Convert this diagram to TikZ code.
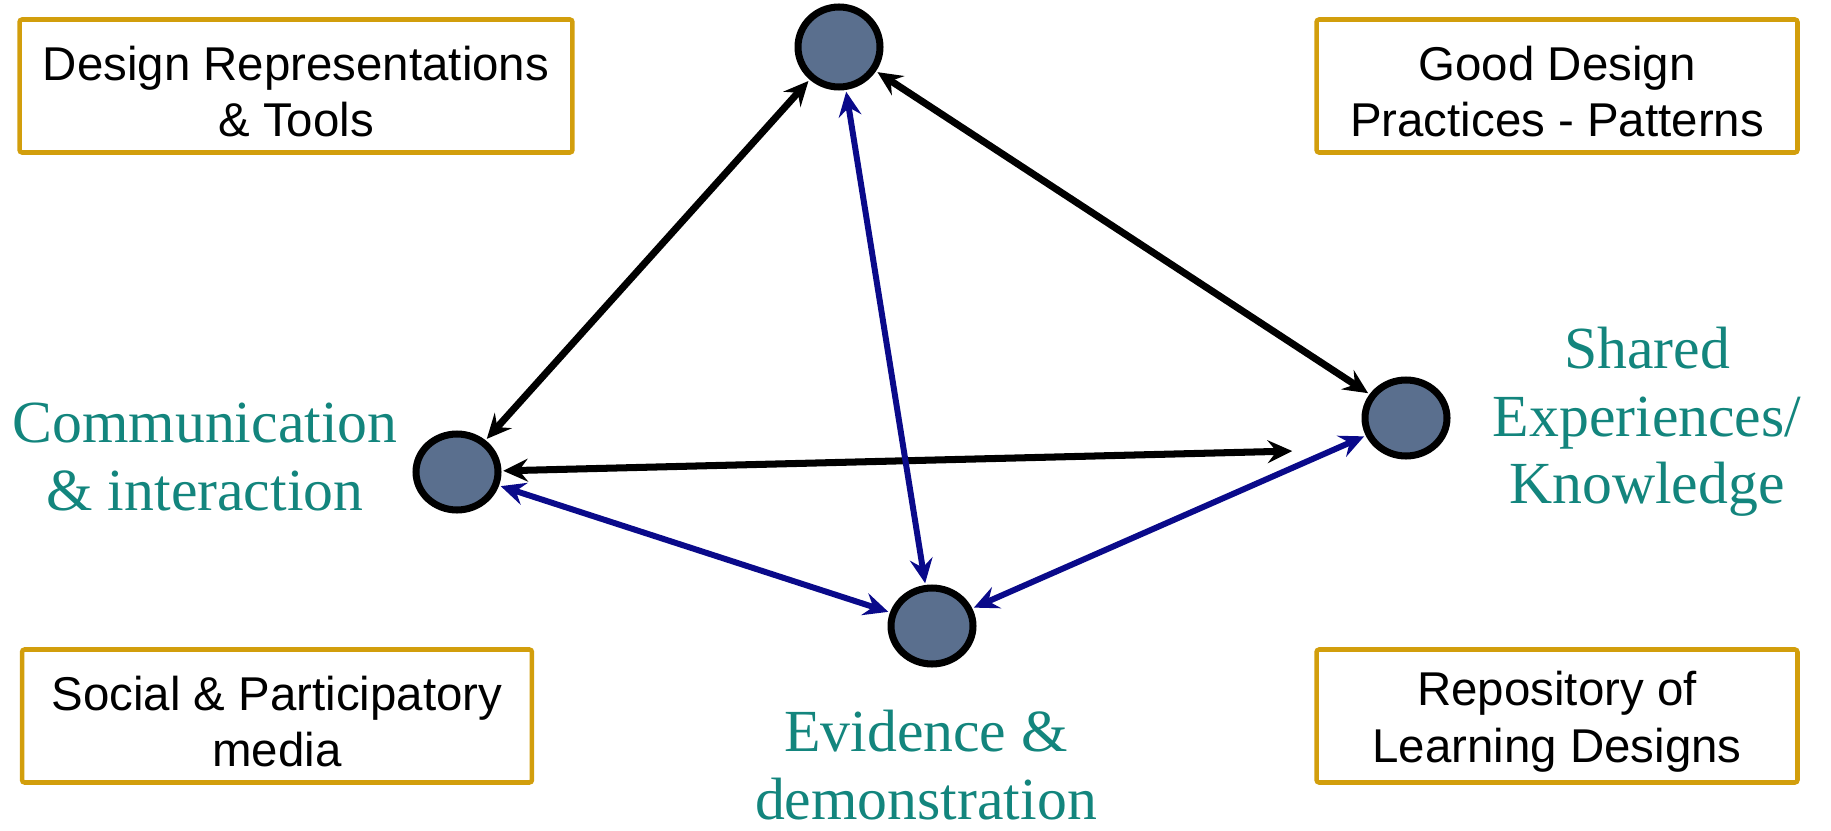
\documentclass[tikz,border=0pt]{standalone}
\usepackage{fontspec}
\setmainfont{Liberation Serif}
\setsansfont{Liberation Sans}
\usetikzlibrary{arrows.meta,shapes.geometric}
\definecolor{Ink}{HTML}{000000}
\definecolor{Gold}{HTML}{D29E0C}
\definecolor{Teal}{HTML}{13857D}
\definecolor{Slate}{HTML}{5A6F8E}
\definecolor{Navy}{HTML}{0A0A8A}
\newcommand{\boxstrut}{\rule{0pt}{26pt}}
\begin{document}
\begin{tikzpicture}[x=0.02cm,y=-0.02cm,
  topic/.style={draw=Gold,line width=2.6pt,rounded corners=1.5pt,align=center,
    font=\sffamily\fontsize{27}{32}\selectfont,minimum height=2.66cm},
  hub/.style={ellipse,draw=Ink,line width=4pt,fill=Slate,inner sep=0pt,
    minimum width=1.64cm,minimum height=1.52cm},
  facet/.style={align=center,text=Teal,font=\rmfamily\fontsize{34}{38.5}\selectfont},
  link/.style={<->,line width=4pt,
    >={Stealth[length=14pt,width=13pt,inset=5pt]},shorten <=1pt,shorten >=1pt},
  blacklink/.style={link,Ink},
  bluelink/.style={link,Navy,line width=3.4pt}]
\useasboundingbox (0,0) rectangle (1831,831);
% corner boxes
\node[topic,minimum width=11.06cm] (repr) at (296,86) {\boxstrut Design Representations\\\& Tools};
\node[topic,minimum width=9.62cm] (good) at (1557,86) {\boxstrut Good Design\\Practices - Patterns};
\node[topic,minimum width=10.2cm] (social) at (277,716) {\boxstrut Social \& Participatory\\media};
\node[topic,minimum width=9.62cm] (repo) at (1557,716) {\boxstrut Repository of\\Learning Designs};
% hubs
\node[hub,minimum height=1.6cm] (top) at (839,47) {};
\node[hub] (comm) at (457,472) {};
\node[hub] (evid) at (932,626) {};
\node[hub] (shared) at (1406,418) {};
\coordinate (sharedend) at (1294,451);
% labels
\node[facet] (commtxt) at (205,457) {Communication\\\& interaction};
\node[facet] (sharedtxt) at (1647,422) {Shared\\Experiences/\\Knowledge};
\node[facet] (evidtxt) at (926,765) {Evidence \&\\demonstration};
% connectors
\draw[blacklink] (top) -- (comm);
\draw[blacklink] (top) -- (shared);
\draw[blacklink] (comm) -- (sharedend);
\draw[bluelink] (top) -- (evid);
\draw[bluelink] (comm) -- (evid);
\draw[bluelink] (evid) -- (shared);
\end{tikzpicture}
\end{document}
